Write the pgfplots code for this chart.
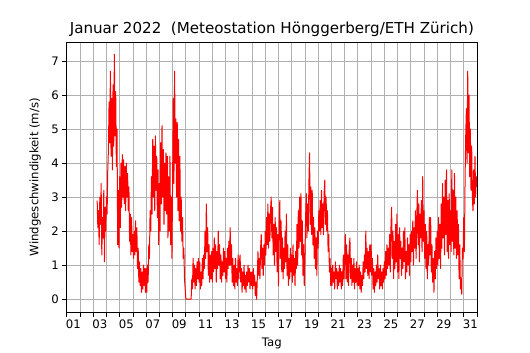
\documentclass[border=0pt]{standalone}
\usepackage{fontspec}
\setmainfont{DejaVu Sans}
\usepackage{pgfplots}
\pgfplotsset{compat=1.18}
\definecolor{gridgray}{HTML}{B0B0B0}
\begin{document}
\begin{tikzpicture}
\begin{axis}[
  scale only axis, width=410bp, height=270bp,
  xmin=0, xmax=31, ymin=-0.382, ymax=7.559,
  xtick={0.5,2.5,...,30.5},
  xticklabels={01,03,05,07,09,11,13,15,17,19,21,23,25,27,29,31},
  minor xtick={0,...,31},
  major x tick style={draw=none},
  ytick={0,...,7},
  xmajorgrids=false, xminorgrids=true, ymajorgrids=true,
  major grid style={gridgray, line width=0.8bp},
  minor grid style={gridgray, line width=0.8bp},
  tick align=outside, major tick length=4.5bp, minor tick length=4.5bp,
  tick style={black, line width=0.8bp},
  xtick pos=bottom, ytick pos=left,
  axis line style={line width=0.8bp},
  font=\fontsize{11.7bp}{14bp}\selectfont,
  /pgf/number format/assume math mode=true,
  title={Januar 2022~~(Meteostation Hönggerberg/ETH Zürich)},
  title style={at={(axis description cs:0.5,1)}, anchor=base, yshift=2.5bp, font=\fontsize{15.1bp}{18bp}\selectfont},
  xlabel={Tag},
  xlabel style={at={(axis description cs:0.5,0)}, anchor=base, yshift=-34.5bp},
  ylabel={Windgeschwindigkeit (m/s)},
  ylabel style={at={(axis description cs:-0.077,0.5)}, anchor=center},
]
\addplot[red, line width=1bp, line join=round] coordinates {
(2.30,2.9)(2.35,2.1)(2.40,2.6)(2.45,1.6)(2.50,3.0)(2.55,2.2)(2.60,3.4)(2.65,1.3)(2.70,2.4)(2.75,1.8)(2.80,3.2)(2.85,1.1)(2.90,2.7)(2.95,2.0)
(3.00,3.0)(3.05,2.5)(3.10,3.8)(3.15,4.4)(3.20,5.8)(3.25,4.6)(3.30,6.7)(3.35,4.2)(3.40,5.9)(3.45,3.8)(3.50,6.3)(3.55,4.5)(3.60,7.2)(3.65,4.8)(3.70,6.1)(3.75,3.9)(3.80,5.0)(3.85,1.6)(3.90,3.2)(3.95,1.5)
(4.00,3.6)(4.05,2.1)(4.10,4.0)(4.15,2.7)(4.20,4.25)(4.25,3.0)(4.30,4.1)(4.35,2.8)(4.40,3.9)(4.45,2.6)(4.50,4.0)(4.55,3.0)(4.60,3.7)(4.65,2.6)(4.70,3.3)(4.75,1.7)(4.80,2.5)(4.85,1.3)(4.90,2.4)(4.95,1.4)
(5.00,1.9)(5.05,1.2)(5.10,2.0)(5.15,1.3)(5.20,2.3)(5.25,1.4)(5.30,2.1)(5.35,0.9)(5.40,1.5)(5.45,0.5)(5.50,1.1)(5.55,0.4)(5.60,0.9)(5.65,0.2)(5.70,0.8)(5.75,0.3)(5.80,1.0)(5.85,0.4)(5.90,0.9)(5.95,0.2)
(6.00,0.9)(6.05,0.2)(6.10,1.0)(6.15,0.5)(6.20,1.6)(6.25,1.2)(6.30,2.6)(6.35,2.0)(6.40,3.6)(6.45,2.5)(6.50,4.7)(6.55,3.0)(6.60,4.5)(6.65,2.6)(6.70,4.8)(6.75,3.2)(6.80,4.2)(6.85,2.4)(6.90,3.8)(6.95,1.6)
(7.00,3.4)(7.05,2.0)(7.10,4.6)(7.15,2.8)(7.20,5.1)(7.25,3.0)(7.30,4.4)(7.35,2.2)(7.40,4.0)(7.45,2.6)(7.50,4.3)(7.55,2.5)(7.60,4.2)(7.65,1.8)(7.70,3.6)(7.75,2.0)(7.80,4.2)(7.85,1.6)(7.90,3.0)(7.95,1.2)
(8.00,3.5)(8.05,5.9)(8.10,3.4)(8.15,6.7)(8.20,4.0)(8.25,5.3)(8.30,3.0)(8.35,5.2)(8.40,2.6)(8.45,4.7)(8.50,2.3)(8.55,4.2)(8.60,2.0)(8.65,3.0)(8.70,1.7)(8.75,2.4)(8.80,1.2)(8.85,1.5)(8.90,0.6)(8.95,0.3)
(9.00,0)(9.05,0)(9.10,0)(9.15,0)(9.20,0)(9.25,0)(9.30,0)(9.35,0)(9.40,0)(9.45,0.6)(9.50,0.3)(9.55,1.2)(9.60,0.5)(9.65,1.0)(9.70,0.3)(9.75,0.9)(9.80,0.4)(9.85,1.1)(9.90,0.6)(9.95,1.2)
(10.00,0.5)(10.05,1.1)(10.10,0.3)(10.15,0.8)(10.20,0.4)(10.25,1.2)(10.30,0.6)(10.35,1.3)(10.40,0.9)(10.45,2.0)(10.50,1.2)(10.55,2.8)(10.60,1.4)(10.65,2.1)(10.70,0.7)(10.75,1.6)(10.80,0.5)(10.85,1.3)(10.90,0.6)(10.95,1.4)
(11.00,0.5)(11.05,1.5)(11.10,0.8)(11.15,1.8)(11.20,0.9)(11.25,1.6)(11.30,0.5)(11.35,1.4)(11.40,0.9)(11.45,2.0)(11.50,1.0)(11.55,1.6)(11.60,0.6)(11.65,1.3)(11.70,0.5)(11.75,1.1)(11.80,0.7)(11.85,1.5)(11.90,0.8)(11.95,1.4)
(12.00,0.6)(12.05,1.2)(12.10,0.5)(12.15,1.5)(12.20,0.9)(12.25,1.7)(12.30,1.0)(12.35,2.1)(12.40,1.0)(12.45,1.6)(12.50,0.5)(12.55,1.2)(12.60,0.4)(12.65,1.0)(12.70,0.3)(12.75,1.2)(12.80,0.5)(12.85,0.9)(12.90,0.4)(12.95,1.3)
(13.00,0.6)(13.05,1.1)(13.10,1.3)(13.15,0.5)(13.20,0.9)(13.25,0.2)(13.30,0.8)(13.35,0.4)(13.40,1.0)(13.45,0.3)(13.50,0.7)(13.55,0.2)(13.60,0.8)(13.65,0.4)(13.70,1.0)(13.75,0.5)(13.80,0.9)(13.85,0.3)(13.90,0.8)(13.95,0.4)
(14.00,0.8)(14.05,0.3)(14.10,0.9)(14.15,0.4)(14.20,0.7)(14.25,0.1)(14.30,0.5)(14.35,0.0)(14.40,0.6)(14.45,1.4)(14.50,0.7)(14.55,1.2)(14.60,0.6)(14.65,1.5)(14.70,1.9)(14.75,0.9)(14.80,1.5)(14.85,0.7)(14.90,1.6)(14.95,1.0)
(15.00,2.0)(15.05,1.3)(15.10,2.4)(15.15,1.6)(15.20,2.8)(15.25,1.5)(15.30,2.5)(15.35,1.7)(15.40,2.6)(15.45,3.0)(15.50,1.8)(15.55,2.7)(15.60,1.3)(15.65,2.2)(15.70,1.0)(15.75,2.4)(15.80,1.4)(15.85,2.1)(15.90,0.8)(15.95,1.9)
(16.00,0.4)(16.05,2.2)(16.10,2.9)(16.15,1.2)(16.20,2.3)(16.25,0.8)(16.30,1.8)(16.35,0.6)(16.40,1.5)(16.45,0.9)(16.50,2.0)(16.55,1.1)(16.60,2.5)(16.65,0.7)(16.70,1.6)(16.75,0.4)(16.80,1.2)(16.85,0.6)(16.90,1.5)(16.95,0.8)
(17.00,1.3)(17.05,0.5)(17.10,1.6)(17.15,0.7)(17.20,1.2)(17.25,0.4)(17.30,1.4)(17.35,0.9)(17.40,2.2)(17.45,1.0)(17.50,2.6)(17.55,1.5)(17.60,3.0)(17.65,1.7)(17.70,3.1)(17.75,1.3)(17.80,2.3)(17.85,0.7)(17.90,1.6)(17.95,0.4)
(18.00,1.2)(18.05,2.4)(18.10,3.1)(18.15,1.8)(18.20,2.8)(18.25,2.0)(18.30,3.4)(18.35,4.3)(18.40,2.2)(18.45,3.3)(18.50,1.9)(18.55,3.2)(18.60,1.6)(18.65,2.4)(18.70,1.2)(18.75,2.1)(18.80,0.9)(18.85,1.8)(18.90,0.7)(18.95,2.0)
(19.00,1.5)(19.05,2.6)(19.10,2.0)(19.15,2.9)(19.20,1.9)(19.25,3.2)(19.30,2.1)(19.35,2.8)(19.40,1.9)(19.45,3.1)(19.50,3.5)(19.55,2.2)(19.60,3.0)(19.65,2.0)(19.70,2.6)(19.75,1.4)(19.80,1.9)(19.85,0.8)(19.90,1.2)(19.95,0.4)
(20.00,0.9)(20.05,0.4)(20.10,1.0)(20.15,0.5)(20.20,0.8)(20.25,0.3)(20.30,1.1)(20.35,0.6)(20.40,0.9)(20.45,0.3)(20.50,0.8)(20.55,0.4)(20.60,1.0)(20.65,0.5)(20.70,0.9)(20.75,0.3)(20.80,0.8)(20.85,0.4)(20.90,1.3)(20.95,0.6)
(21.00,1.2)(21.05,1.9)(21.10,0.6)(21.15,1.6)(21.20,0.5)(21.25,1.3)(21.30,0.4)(21.35,1.5)(21.40,1.8)(21.45,0.6)(21.50,1.2)(21.55,0.4)(21.60,1.0)(21.65,0.5)(21.70,1.2)(21.75,0.3)(21.80,0.9)(21.85,0.5)(21.90,1.1)(21.95,0.4)
(22.00,0.9)(22.05,0.4)(22.10,1.0)(22.15,0.3)(22.20,0.8)(22.25,0.2)(22.30,0.7)(22.35,0.4)(22.40,1.1)(22.45,0.6)(22.50,1.3)(22.55,0.8)(22.60,2.0)(22.65,0.9)(22.70,1.5)(22.75,0.7)(22.80,1.4)(22.85,0.6)(22.90,1.6)(22.95,0.8)
(23.00,1.6)(23.05,0.7)(23.10,1.2)(23.15,0.3)(23.20,0.9)(23.25,0.2)(23.30,0.8)(23.35,0.4)(23.40,1.0)(23.45,0.5)(23.50,1.3)(23.55,0.6)(23.60,0.9)(23.65,0.3)(23.70,1.0)(23.75,0.4)(23.80,0.8)(23.85,0.3)(23.90,0.9)(23.95,0.5)
(24.00,1.1)(24.05,0.6)(24.10,1.4)(24.15,0.7)(24.20,1.6)(24.25,0.9)(24.30,1.5)(24.35,1.0)(24.40,1.9)(24.45,0.8)(24.50,2.1)(24.55,2.7)(24.60,1.2)(24.65,2.0)(24.70,0.6)(24.75,1.7)(24.80,0.9)(24.85,2.2)(24.90,1.1)(24.95,2.5)
(25.00,0.8)(25.05,1.9)(25.10,0.6)(25.15,2.1)(25.20,1.2)(25.25,1.7)(25.30,0.7)(25.35,1.5)(25.40,0.9)(25.45,2.0)(25.50,1.1)(25.55,2.1)(25.60,0.6)(25.65,1.4)(25.70,0.8)(25.75,1.8)(25.80,1.0)(25.85,1.6)(25.90,0.7)(25.95,1.9)
(26.00,1.1)(26.05,2.0)(26.10,1.4)(26.15,2.3)(26.20,1.0)(26.25,2.1)(26.30,1.5)(26.35,2.6)(26.40,1.2)(26.45,2.4)(26.50,3.2)(26.55,1.6)(26.60,2.8)(26.65,1.1)(26.70,2.5)(26.75,1.8)(26.80,2.9)(26.85,1.4)(26.90,3.6)(26.95,1.7)
(27.00,2.6)(27.05,1.2)(27.10,2.2)(27.15,0.9)(27.20,2.0)(27.25,0.6)(27.30,1.6)(27.35,1.0)(27.40,2.4)(27.45,1.3)(27.50,2.4)(27.55,0.8)(27.60,1.6)(27.65,0.5)(27.70,1.2)(27.75,0.2)(27.80,1.4)(27.85,0.6)(27.90,1.8)(27.95,0.9)
(28.00,2.0)(28.05,1.0)(28.10,2.4)(28.15,1.2)(28.20,2.2)(28.25,0.9)(28.30,2.8)(28.35,1.5)(28.40,3.4)(28.45,1.8)(28.50,3.0)(28.55,1.3)(28.60,3.5)(28.65,1.9)(28.70,3.8)(28.75,1.4)(28.80,2.9)(28.85,1.2)(28.90,3.1)(28.95,1.6)
(29.00,2.6)(29.05,1.4)(29.10,3.8)(29.15,1.7)(29.20,3.2)(29.25,1.3)(29.30,3.7)(29.35,1.5)(29.40,3.0)(29.45,1.2)(29.50,2.6)(29.55,1.3)(29.60,2.2)(29.65,0.6)(29.70,1.6)(29.75,0.3)(29.80,0.6)(29.85,0.15)(29.90,1.5)(29.95,1.2)
(30.00,2.4)(30.05,1.4)(30.10,3.5)(30.15,4.8)(30.20,5.6)(30.25,4.0)(30.30,6.7)(30.35,4.3)(30.40,6.0)(30.45,3.6)(30.50,5.0)(30.55,3.2)(30.60,4.5)(30.65,3.0)(30.70,2.6)(30.75,3.8)(30.80,2.8)(30.85,4.2)(30.90,3.0)(30.95,3.6)(31.00,3.3)
};
\end{axis}
\path ([shift={(-66.7bp,-38bp)}]current axis.south west) rectangle ([shift={(53bp,42bp)}]current axis.north east);
\end{tikzpicture}
\end{document}
